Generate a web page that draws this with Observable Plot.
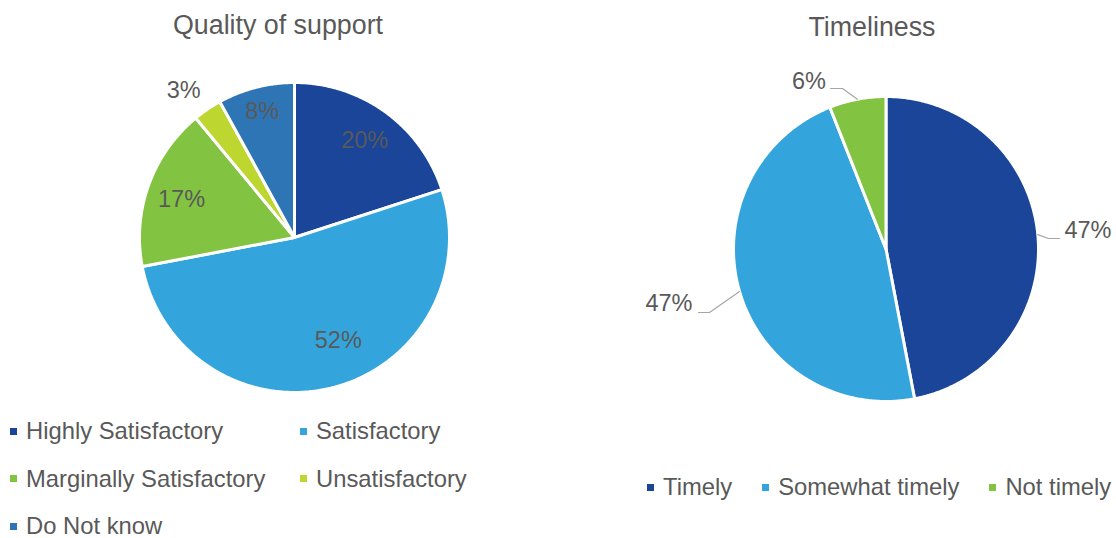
<!DOCTYPE html>
<html><head><meta charset="utf-8">
<script src="https://cdn.jsdelivr.net/npm/d3@7"></script>
<script src="https://cdn.jsdelivr.net/npm/@observablehq/plot@0.6"></script>
<style>
body{margin:0;background:#fff;overflow:hidden}
#root{position:relative;width:1116px;height:538px;font-family:"Liberation Sans",Arial,sans-serif;color:#595959}
.title{position:absolute;text-align:center;font-size:26.8px;line-height:30px}
.pie{position:absolute}
.legend{position:absolute;font-size:23.8px}
.item{display:flex;align-items:center;white-space:nowrap;height:26px;line-height:26px}
.sw{width:7px;height:7px;margin-right:9px;flex:none}
</style></head><body><div id="root"></div>
<script>
// ---- data ----
const titles = ["Quality of support", "Timeliness"];
const qualityCategories = ["Highly Satisfactory", "Satisfactory", "Marginally Satisfactory", "Unsatisfactory", "Do Not know"];
const qualityValues = [20, 52, 17, 3, 8];
const qualityColors = ["#1a4599", "#34a5dc", "#82c341", "#bdd630", "#2e75b6"];
const timelinessCategories = ["Timely", "Somewhat timely", "Not timely"];
const timelinessValues = [47, 47, 6];
const timelinessColors = ["#1a4599", "#34a5dc", "#82c341"];

// ---- layout (styling only) ----
const FONT = '"Liberation Sans", Arial, sans-serif';
const TEXT = "#595959";
// inside/outside label placement for the first pie: radius factor, angle tweak (deg)
const qualityLabelLayout = [
  {r: 0.77, da: 0}, {r: 0.72, da: -8.7}, {r: 0.77, da: -1}, {r: 1.19, da: -2.7}, {r: 0.84, da: 0}
];
// outside labels with leader lines for the second pie (pixel offsets from centre, y down)
const timelinessLabelLayout = [
  {tx: 202, ty: -19, elbow: [162.5, -10.5], end: [173.5, -10.5]},
  {tx: -217, ty: 54, elbow: [-176.5, 63.5], end: [-187.5, 63.5]},
  {tx: -77, ty: -168, elbow: [-43.5, -160.5], end: [-55.5, -160.5]}
];

const root = document.getElementById("root");

function pieChart({cats, vals, colors, W, H, cx, cy, r, inside, outside}) {
  const total = d3.sum(vals);
  const arcs = d3.pie().sort(null).value(d => d)(vals);
  const pts = [];
  arcs.forEach((a, i) => {
    pts.push({key: cats[i], x: 0, y: 0});
    const n = Math.max(2, Math.ceil((a.endAngle - a.startAngle) / (Math.PI / 360)));
    for (let k = 0; k <= n; k++) {
      const t = a.startAngle + (a.endAngle - a.startAngle) * k / n;
      pts.push({key: cats[i], x: Math.sin(t), y: Math.cos(t)});
    }
  });
  const labels = [];
  const leaders = [];
  arcs.forEach((a, i) => {
    const text = Math.round(vals[i] / total * 100) + "%";
    const mid = (a.startAngle + a.endAngle) / 2;
    if (inside) {
      const L = inside[i];
      const t = mid + L.da * Math.PI / 180;
      labels.push({x: L.r * Math.sin(t), y: L.r * Math.cos(t), text});
    } else {
      const L = outside[i];
      labels.push({x: L.tx / r, y: -L.ty / r, text});
      leaders.push({key: cats[i], x: Math.sin(mid), y: Math.cos(mid)});
      leaders.push({key: cats[i], x: L.elbow[0] / r, y: -L.elbow[1] / r});
      leaders.push({key: cats[i], x: L.end[0] / r, y: -L.end[1] / r});
    }
  });
  return Plot.plot({
    width: W, height: H, margin: 0,
    x: {domain: [-cx / r, (W - cx) / r], axis: null},
    y: {domain: [-(H - cy) / r, cy / r], axis: null},
    color: {domain: cats, range: colors},
    style: {background: "transparent", overflow: "visible", fontFamily: FONT},
    marks: [
      Plot.line(pts, {x: "x", y: "y", z: "key", fill: "key", stroke: "white", strokeWidth: 3, curve: "linear-closed"}),
      Plot.line(leaders, {x: "x", y: "y", z: "key", stroke: "#a6a6a6", strokeWidth: 1.2}),
      Plot.text(labels, {x: "x", y: "y", text: "text", fill: TEXT, fontSize: 23.5, fontFamily: FONT})
    ]
  });
}

function place(el, left, top) {
  el.style.position = "absolute";
  el.style.left = left + "px";
  el.style.top = top + "px";
  root.appendChild(el);
  return el;
}

function title(txt, left, width, top) {
  const d = document.createElement("div");
  d.className = "title";
  d.textContent = txt;
  d.style.width = width + "px";
  place(d, left, top);
}

function legend(cats, colors, left, top, grid) {
  const d = document.createElement("div");
  d.className = "legend";
  if (grid) {
    d.style.display = "grid";
    d.style.gridTemplateColumns = grid;
    d.style.rowGap = "21.5px";
  } else {
    d.style.display = "flex";
    d.style.gap = "30px";
  }
  cats.forEach((c, i) => {
    const it = document.createElement("div");
    it.className = "item";
    const sw = document.createElement("span");
    sw.className = "sw";
    sw.style.background = colors[i];
    const tx = document.createElement("span");
    tx.textContent = c;
    it.appendChild(sw); it.appendChild(tx);
    d.appendChild(it);
  });
  place(d, left, top);
}

// Left chart
title(titles[0], 0, 556, 10);
place(pieChart({cats: qualityCategories, vals: qualityValues, colors: qualityColors,
  W: 400, H: 400, cx: 200, cy: 200, r: 155, inside: qualityLabelLayout}), 94, 37);
legend(qualityCategories, qualityColors, 10, 418, "290px 260px");

// Right chart
title(titles[1], 628, 488, 12);
place(pieChart({cats: timelinessCategories, vals: timelinessValues, colors: timelinessColors,
  W: 476, H: 400, cx: 245.5, cy: 200.5, r: 152.5, outside: timelinessLabelLayout}), 640, 48);
legend(timelinessCategories, timelinessColors, 647, 474, null);
</script></body></html>
